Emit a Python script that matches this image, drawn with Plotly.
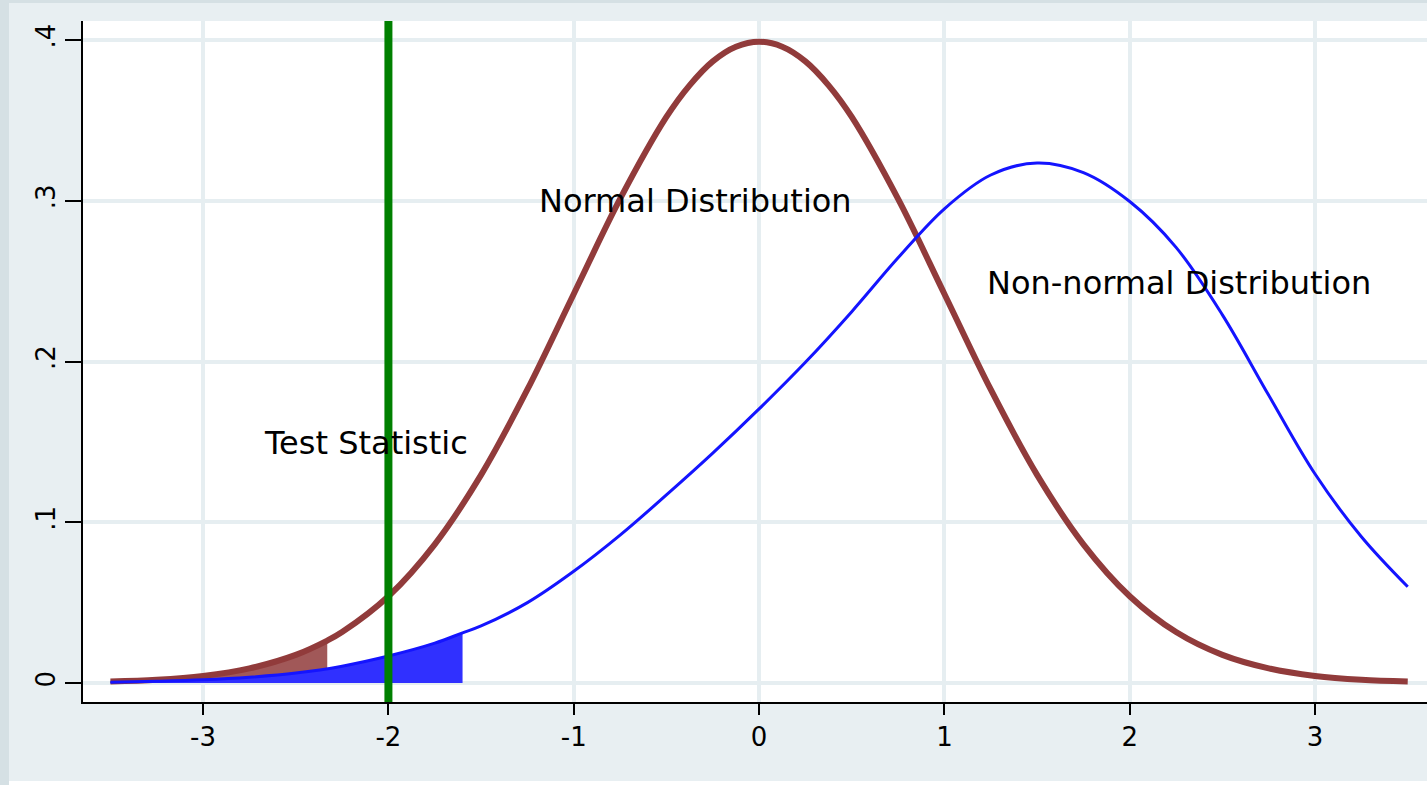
import plotly.graph_objects as go

# ---- data ----
normal_x = [-3.5, -3.25, -3.0, -2.75, -2.5, -2.33, -2.25, -2.0, -1.75, -1.5, -1.25, -1.0, -0.75, -0.5,
            -0.375, -0.25, -0.125, 0.0, 0.125, 0.25, 0.375, 0.5, 0.75, 1.0, 1.25, 1.5, 1.75, 2.0, 2.25,
            2.5, 2.75, 3.0, 3.25, 3.5]
normal_y = [0.0009, 0.0020, 0.0044, 0.0091, 0.0175, 0.0264, 0.0317, 0.0540, 0.0863, 0.1295, 0.1826, 0.2420,
            0.3011, 0.3521, 0.3718, 0.3867, 0.3958, 0.3989, 0.3958, 0.3867, 0.3718, 0.3521, 0.3011, 0.2420,
            0.1826, 0.1295, 0.0863, 0.0540, 0.0317, 0.0175, 0.0091, 0.0044, 0.0020, 0.0009]

nonnormal_x = [-3.5, -3.25, -3.0, -2.75, -2.5, -2.25, -2.0, -1.75, -1.6, -1.5, -1.25, -1.0, -0.75, -0.5,
               -0.25, 0.0, 0.25, 0.5, 0.75, 1.0, 1.25, 1.5, 1.75, 2.0, 2.25, 2.5, 2.75, 3.0, 3.25, 3.5]
nonnormal_y = [0.0005, 0.0011, 0.0020, 0.0036, 0.0062, 0.0105, 0.0168, 0.0248, 0.0312, 0.0355, 0.0500,
               0.0695, 0.0920, 0.1170, 0.1430, 0.1705, 0.1995, 0.2310, 0.2645, 0.2950, 0.3160, 0.3235,
               0.3175, 0.2995, 0.2710, 0.2290, 0.1790, 0.1300, 0.0910, 0.0599]

normal_crit = -2.33       # end of shaded normal tail
nonnormal_crit = -1.6     # end of shaded non-normal tail
test_stat = -2.0

x_ticks = [-3, -2, -1, 0, 1, 2, 3]
x_tick_text = ["-3", "-2", "-1", "0", "1", "2", "3"]
y_ticks = [0, 0.1, 0.2, 0.3, 0.4]
y_tick_text = ["0", ".1", ".2", ".3", ".4"]

labels = [("Normal Distribution", -1.2, 0.30),
          ("Non-normal Distribution", 1.22, 0.249),
          ("Test Statistic", -2.68, 0.149)]

MAROON = "#913b3b"
BLUE = "#1414ff"
GREEN = "#008000"

fig = go.Figure()

# shaded tails
nx_fill = [x for x in normal_x if x <= normal_crit]
ny_fill = [y for x, y in zip(normal_x, normal_y) if x <= normal_crit]
bx_fill = [x for x in nonnormal_x if x <= nonnormal_crit]
by_fill = [y for x, y in zip(nonnormal_x, nonnormal_y) if x <= nonnormal_crit]

fig.add_trace(go.Scatter(x=nx_fill, y=ny_fill, mode="lines", line=dict(width=0, shape="spline"),
                         fill="tozeroy", fillcolor="rgba(145,59,59,0.85)", hoverinfo="skip"))
fig.add_trace(go.Scatter(x=normal_x, y=normal_y, mode="lines",
                         line=dict(color=MAROON, width=6, shape="spline")))
fig.add_trace(go.Scatter(x=bx_fill, y=by_fill, mode="lines", line=dict(width=0, shape="spline"),
                         fill="tozeroy", fillcolor="#3030ff", hoverinfo="skip"))
fig.add_trace(go.Scatter(x=nonnormal_x, y=nonnormal_y, mode="lines",
                         line=dict(color=BLUE, width=3, shape="spline")))

# test statistic vertical line
fig.add_shape(type="line", xref="x", yref="y domain", x0=test_stat, x1=test_stat, y0=0, y1=1,
              line=dict(color=GREEN, width=8), layer="above")

for txt, xx, yy in labels:
    fig.add_annotation(x=xx, y=yy, text=txt, showarrow=False, xanchor="left", yanchor="middle",
                       font=dict(family="DejaVu Sans", size=32, color="black"))

# frame strips (outer graph region)
PW, PH = 1427 - 83, 702 - 21
fig.add_shape(type="rect", xref="paper", yref="paper", x0=-83 / PW, x1=-74 / PW, y0=-83 / PH, y1=702 / PH,
              fillcolor="#d5e0e4", line=dict(width=0), layer="below")
fig.add_shape(type="rect", xref="paper", yref="paper", x0=-83 / PW, x1=1.0, y0=699 / PH, y1=702 / PH,
              fillcolor="#d5e0e4", line=dict(width=0), layer="below")
fig.add_shape(type="rect", xref="paper", yref="paper", x0=-74 / PW, x1=1.0, y0=-83 / PH, y1=-79 / PH,
              fillcolor="white", line=dict(width=0), layer="below")

GRID = "#e6eef1"
fig.update_layout(
    width=1427, height=785,
    margin=dict(l=83, r=0, t=21, b=83),
    paper_bgcolor="#e8eff2",
    plot_bgcolor="white",
    showlegend=False,
    font=dict(family="DejaVu Sans", color="black"),
    xaxis=dict(range=[-3.648, 3.604], tickvals=x_ticks, ticktext=x_tick_text,
               showgrid=True, gridcolor=GRID, gridwidth=4, zeroline=False,
               showline=True, linecolor="black", linewidth=2,
               ticks="outside", ticklen=11, tickwidth=2, tickcolor="black",
               tickfont=dict(size=26, family="DejaVu Sans", color="black")),
    yaxis=dict(range=[-0.0118, 0.4118], tickvals=y_ticks, ticktext=y_tick_text,
               showgrid=True, gridcolor=GRID, gridwidth=4, zeroline=False,
               showline=True, linecolor="black", linewidth=2,
               ticks="outside", ticklen=16, tickwidth=2, tickcolor="black", tickangle=-90,
               tickfont=dict(size=26, family="DejaVu Sans", color="black")),
)

fig.write_html("out.html", config={"displayModeBar": False},
               post_script="document.body.style.margin='0px';document.body.style.overflow='hidden';")
